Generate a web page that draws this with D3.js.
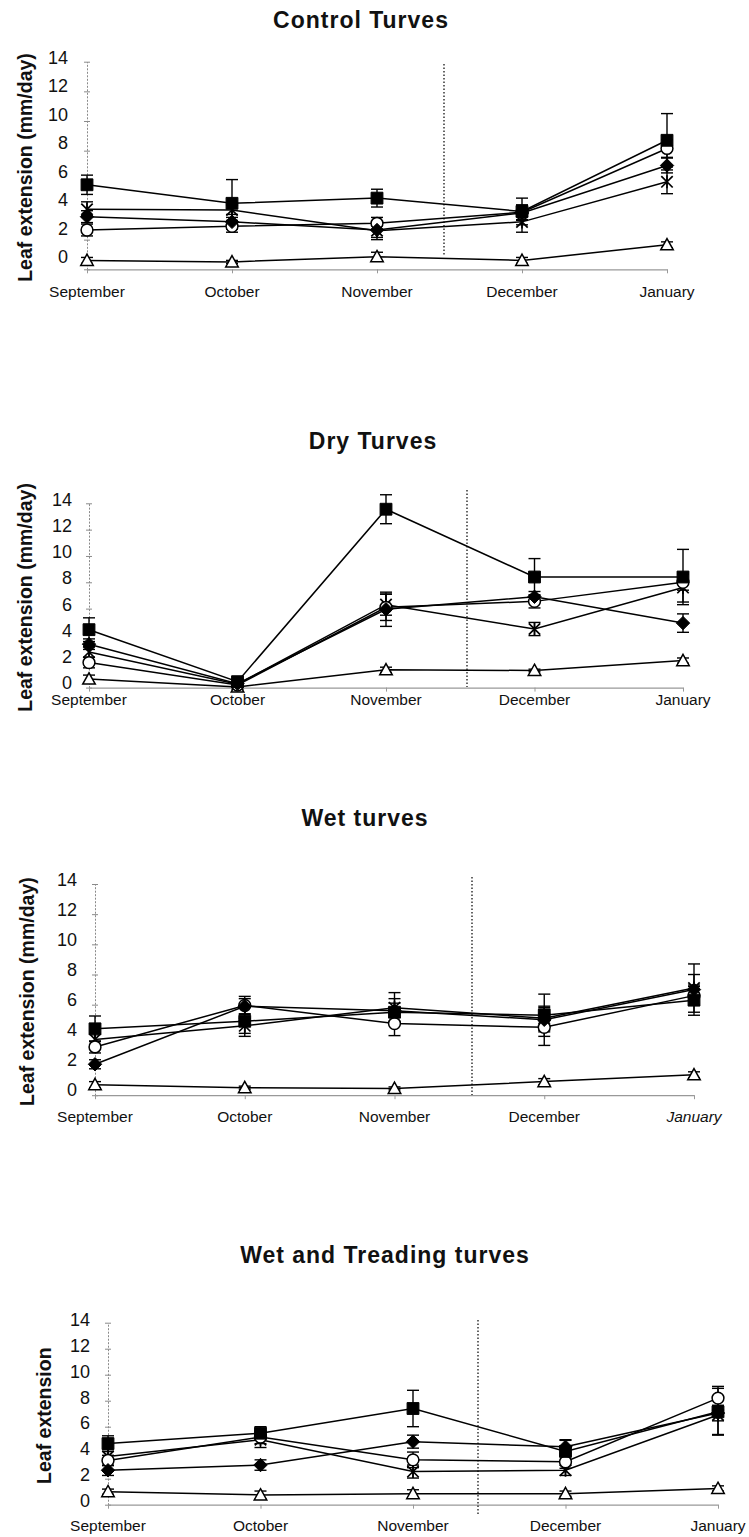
<!DOCTYPE html>
<html>
<head>
<meta charset="utf-8">
<script src="https://cdn.jsdelivr.net/npm/d3@7"></script>
<style>
  body { margin: 0; background: #fff; }
  svg { display: block; }
  text { font-family: "Liberation Sans", Arial, Helvetica, sans-serif; fill: #111; }
</style>
</head>
<body>
<svg id="chart" width="749" height="1537"></svg>
<script>
// ---- Data: mean leaf extension (mm/day) and error per month ----
const months = ["September", "October", "November", "December", "January"];
const yTicks = [0, 2, 4, 6, 8, 10, 12, 14];

// Control turves
const controlSquare    = [5.7, 4.45, 4.8, 3.9, 8.7];
const controlSquareErr = [0.65, 1.6, 0.6, 0.9, 1.8];
const controlCircle    = [2.65, 2.9, 3.1, 3.85, 8.15];
const controlCircleErr = [0.4, 0.4, 0.4, 0.5, 0.6];
const controlDiamond   = [3.55, 3.2, 2.65, 3.8, 7.0];
const controlDiamondErr= [0.4, 0.5, 0.5, 0.5, 0.5];
const controlStar      = [4.05, 4.0, 2.6, 3.2, 5.9];
const controlStarErr   = [0.5, 0.5, 0.6, 0.7, 0.8];
const controlTri       = [0.6, 0.5, 0.85, 0.6, 1.65];
const controlTriErr    = [0.2, 0.1, 0.3, 0.2, 0.2];

// Dry turves
const drySquare    = [4.4, 0.45, 13.55, 8.4, 8.4];
const drySquareErr = [0.9, 0.2, 1.1, 1.4, 2.1];
const dryCircle    = [1.9, 0.2, 6.1, 6.55, 8.0];
const dryCircleErr = [0.4, 0.1, 1.0, 0.5, 0.6];
const dryDiamond   = [3.3, 0.3, 5.95, 6.9, 4.9];
const dryDiamondErr= [0.4, 0.1, 1.3, 0.4, 0.7];
const dryStar      = [2.7, 0.25, 6.3, 4.45, 7.6];
const dryStarErr   = [0.4, 0.1, 0.8, 0.5, 1.1];
const dryTri       = [0.65, 0.05, 1.35, 1.3, 2.05];
const dryTriErr    = [0.3, 0.05, 0.2, 0.1, 0.2];

// Wet turves
const wetSquare    = [4.4, 4.9, 5.5, 5.3, 6.3];
const wetSquareErr = [0.85, 1.0, 0.6, 1.4, 1.0];
const wetCircle    = [3.2, 5.95, 4.75, 4.5, 6.6];
const wetCircleErr = [0.4, 0.6, 0.8, 1.2, 0.6];
const wetDiamond   = [2.05, 5.9, 5.6, 5.0, 7.0];
const wetDiamondErr= [0.3, 0.5, 0.8, 0.8, 1.0];
const wetStar      = [3.7, 4.6, 5.8, 5.1, 7.1];
const wetStarErr   = [0.4, 0.5, 1.0, 0.8, 1.6];
const wetTri       = [0.7, 0.5, 0.45, 0.9, 1.35];
const wetTriErr    = [0.2, 0.1, 0.1, 0.2, 0.2];

// Wet and treading turves
const treadSquare    = [4.7, 5.5, 7.4, 4.1, 7.15];
const treadSquareErr = [0.6, 0.5, 1.4, 0.9, 1.8];
const treadCircle    = [3.4, 5.2, 3.45, 3.3, 8.2];
const treadCircleErr = [0.4, 0.5, 0.6, 0.5, 0.9];
const treadDiamond   = [2.65, 3.05, 4.85, 4.45, 7.05];
const treadDiamondErr= [0.4, 0.4, 0.5, 0.5, 0.6];
const treadStar      = [3.7, 5.0, 2.55, 2.65, 6.9];
const treadStarErr   = [0.4, 0.6, 0.5, 0.4, 1.5];
const treadTri       = [1.0, 0.75, 0.85, 0.85, 1.25];
const treadTriErr    = [0.2, 0.3, 0.3, 0.2, 0.2];

// ---- Marker shapes (Excel-style) ----
const symSquare = { draw(c, size) { const s = Math.sqrt(size) / 2; c.rect(-s, -s, 2 * s, 2 * s); } };
const symDiamond = { draw(c, size) { const s = Math.sqrt(size) / 2 * 1.25;
  c.moveTo(0, -s); c.lineTo(s, 0); c.lineTo(0, s); c.lineTo(-s, 0); c.closePath(); } };
const symTriangle = { draw(c, size) { const s = Math.sqrt(size) / 2 * 1.1;
  c.moveTo(0, -s); c.lineTo(s, s * 0.8); c.lineTo(-s, s * 0.8); c.closePath(); } };
const symStar = { draw(c, size) { const s = Math.sqrt(size) / 2;
  c.moveTo(-s, -s); c.lineTo(s, s); c.moveTo(s, -s); c.lineTo(-s, s);
  c.moveTo(0, -s * 1.15); c.lineTo(0, s * 1.15); } };

const markerStyle = {
  tri:     { type: symTriangle,    fill: "#fff", stroke: "#000", sw: 1.5, size: 130 },
  star:    { type: symStar,        fill: "none", stroke: "#000", sw: 1.7, size: 130 },
  circle:  { type: d3.symbolCircle, fill: "#fff", stroke: "#000", sw: 1.5, size: 110 },
  diamond: { type: symDiamond,     fill: "#000", stroke: "#000", sw: 1,   size: 115 },
  square:  { type: symSquare,      fill: "#000", stroke: "#000", sw: 1,   size: 140 }
};

// ---- Panel layout ----
const panels = [
  { title: "Control Turves", titleX: 361, titleY: 28,
    yTitle: "Leaf extension (mm/day)", yTitleX: 25,
    x0: 87, x1: 667, yZero: 269.3, yTop: 61.7, labZero: 257, labTop: 58, labRight: 68,
    xLabelY: 297, divX: 444, divTop: 64, divBottom: 255,
    series: { tri: [controlTri, controlTriErr], star: [controlStar, controlStarErr],
              circle: [controlCircle, controlCircleErr], diamond: [controlDiamond, controlDiamondErr],
              square: [controlSquare, controlSquareErr] } },
  { title: "Dry Turves", titleX: 373, titleY: 449,
    yTitle: "Leaf extension (mm/day)", yTitleX: 25,
    x0: 89, x1: 683, yZero: 687.6, yTop: 503.3, labZero: 683, labTop: 500, labRight: 72,
    xLabelY: 705, divX: 467, divTop: 490, divBottom: 687,
    series: { tri: [dryTri, dryTriErr], star: [dryStar, dryStarErr],
              circle: [dryCircle, dryCircleErr], diamond: [dryDiamond, dryDiamondErr],
              square: [drySquare, drySquareErr] } },
  { title: "Wet turves", titleX: 365, titleY: 826,
    yTitle: "Leaf extension (mm/day)", yTitleX: 27,
    x0: 95, x1: 694, yZero: 1095.2, yTop: 884, labZero: 1090, labTop: 880, labRight: 77,
    xLabelY: 1122, divX: 472, divTop: 877, divBottom: 1095, italicLast: true,
    series: { tri: [wetTri, wetTriErr], star: [wetStar, wetStarErr],
              circle: [wetCircle, wetCircleErr], diamond: [wetDiamond, wetDiamondErr],
              square: [wetSquare, wetSquareErr] } },
  { title: "Wet and Treading turves", titleX: 385, titleY: 1263,
    yTitle: "Leaf extension", yTitleX: 44,
    x0: 108, x1: 718, yZero: 1504.7, yTop: 1322.7, labZero: 1501, labTop: 1320, labRight: 90,
    xLabelY: 1531, divX: 478, divTop: 1320, divBottom: 1515,
    series: { tri: [treadTri, treadTriErr], star: [treadStar, treadStarErr],
              circle: [treadCircle, treadCircleErr], diamond: [treadDiamond, treadDiamondErr],
              square: [treadSquare, treadSquareErr] } }
];

const svg = d3.select("#chart");
const drawOrder = ["tri", "star", "circle", "diamond", "square"];

panels.forEach(p => {
  const g = svg.append("g");
  const x = d3.scalePoint().domain(months).range([p.x0, p.x1]);
  const y = d3.scaleLinear().domain([0, 14]).range([p.yZero, p.yTop]);
  const yLab = d3.scaleLinear().domain([0, 14]).range([p.labZero, p.labTop]);

  // title
  g.append("text").attr("x", p.titleX).attr("y", p.titleY)
    .attr("text-anchor", "middle").attr("font-size", 23).attr("font-weight", "bold")
    .attr("letter-spacing", 1).text(p.title);

  // y axis title
  const yMid = (p.yZero + p.yTop) / 2 + 2;
  g.append("text").attr("transform", `translate(${p.yTitleX},${yMid}) rotate(-90)`)
    .attr("text-anchor", "middle").attr("dominant-baseline", "central")
    .attr("font-size", 19.5).attr("font-weight", "bold").text(p.yTitle);

  // y axis: dotted grey line with crossing ticks
  const yAxL = g.append("g").attr("transform", `translate(${p.x0},0)`)
    .call(d3.axisLeft(y).tickValues(yTicks).tickSize(3).tickSizeOuter(0).tickFormat(""));
  const yAxR = g.append("g").attr("transform", `translate(${p.x0},0)`)
    .call(d3.axisRight(y).tickValues(yTicks).tickSize(3).tickSizeOuter(0).tickFormat(""));
  yAxR.select(".domain").remove();
  [yAxL, yAxR].forEach(a => {
    a.selectAll("line").attr("stroke", "#8a8a8a");
    a.select(".domain").attr("stroke", "#8a8a8a").attr("stroke-dasharray", "2,1.5");
  });

  // y tick labels
  g.selectAll(null).data(yTicks).join("text")
    .attr("x", p.labRight).attr("y", d => yLab(d))
    .attr("text-anchor", "end").attr("dominant-baseline", "central")
    .attr("font-size", 18).text(d => d);

  // x axis
  const xAx = g.append("g").attr("transform", `translate(0,${p.yZero})`)
    .call(d3.axisBottom(x).tickSize(4).tickSizeOuter(0).tickFormat(""));
  xAx.select(".domain").attr("stroke", "#999").attr("stroke-width", 1.3);
  xAx.selectAll("line").attr("stroke", "#999");

  // x labels
  g.selectAll(null).data(months).join("text")
    .attr("x", d => x(d)).attr("y", p.xLabelY)
    .attr("text-anchor", "middle").attr("font-size", 15.5)
    .attr("font-style", (d, i) => (p.italicLast && i === months.length - 1) ? "italic" : null)
    .text(d => d);

  // dotted divider between periods
  g.append("line").attr("x1", p.divX).attr("x2", p.divX)
    .attr("y1", p.divTop).attr("y2", p.divBottom)
    .attr("stroke", "#000").attr("stroke-width", 1.2).attr("stroke-dasharray", "1.5,2");

  const line = d3.line().x((d, i) => x(months[i])).y(d => y(d));

  // error bars
  drawOrder.forEach(k => {
    const [vals, errs] = p.series[k];
    const eg = g.append("g").attr("stroke", "#000").attr("stroke-width", 1.4);
    vals.forEach((v, i) => {
      const cx = x(months[i]);
      const lo = y(Math.max(0, v - errs[i])), hi = y(v + errs[i]);
      eg.append("line").attr("x1", cx).attr("x2", cx).attr("y1", lo).attr("y2", hi);
      eg.append("line").attr("x1", cx - 6).attr("x2", cx + 6).attr("y1", hi).attr("y2", hi);
      eg.append("line").attr("x1", cx - 6).attr("x2", cx + 6).attr("y1", lo).attr("y2", lo);
    });
  });

  // series lines
  drawOrder.forEach(k => {
    const [vals] = p.series[k];
    g.append("path").datum(vals).attr("d", line)
      .attr("fill", "none").attr("stroke", "#000").attr("stroke-width", 1.5);
  });

  // markers
  drawOrder.forEach(k => {
    const [vals] = p.series[k];
    const st = markerStyle[k];
    const sym = d3.symbol().type(st.type).size(st.size);
    g.selectAll(null).data(vals).join("path")
      .attr("transform", (d, i) => `translate(${x(months[i])},${y(d)})`)
      .attr("d", sym)
      .attr("fill", st.fill).attr("stroke", st.stroke).attr("stroke-width", st.sw);
  });
});
</script>
</body>
</html>
